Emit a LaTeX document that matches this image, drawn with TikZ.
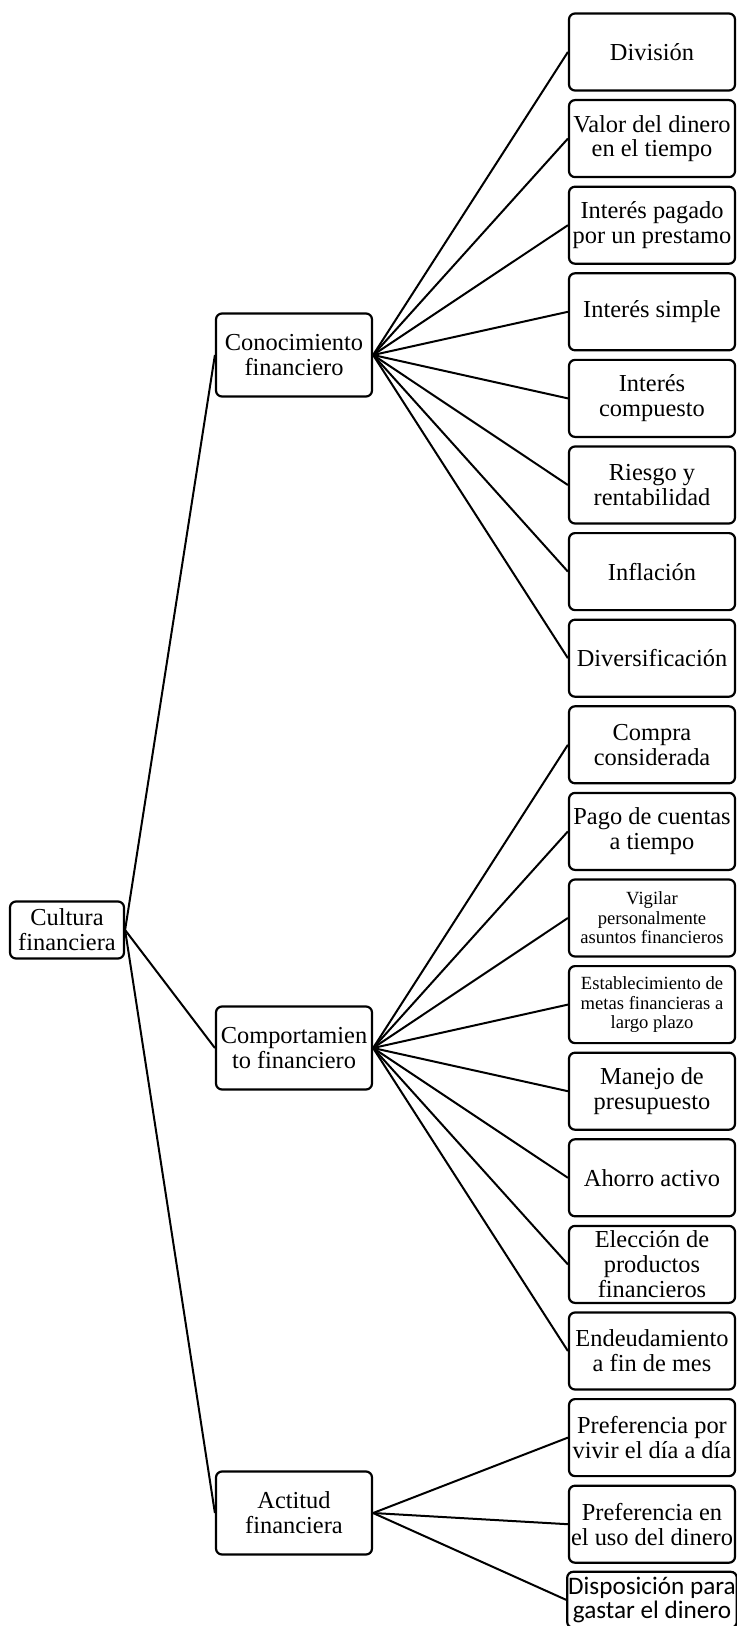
\documentclass[tikz,border=0pt]{standalone}
\usepackage{fontspec}
\setmainfont{Liberation Serif}
\newfontfamily\leafsansfont{Carlito}
\usepackage{tikz}
\usetikzlibrary{positioning}
\tikzset{
    box/.style={draw=black, fill=white, rounded corners=3pt, line width=1.1pt, align=center, inner sep=0.5pt, font=\fontsize{12.2}{12.4}\selectfont},
    rootbox/.style={box, minimum width=57pt, minimum height=28.5pt},
    midbox/.style={box, minimum width=78pt, minimum height=41.5pt},
    leaf/.style={box, minimum width=83pt, minimum height=38.5pt},
    leafsmall/.style={leaf, font=\fontsize{9.3}{9.7}\selectfont},
    % last box runs off the page, its text sits higher
    leafsans/.style={leaf, minimum height=28pt, yshift=5.5pt, font=\leafsansfont\fontsize{12.6}{11.8}\selectfont},
    link/.style={line width=1pt, black}
}

\begin{document}
\begin{tikzpicture}[x=0.5pt, y=-0.5pt]
        \clip (0,0) rectangle (737,1626);
        \useasboundingbox (0,0) rectangle (737,1626);

        % Cultura financiera
        \node[rootbox] at (67,930) (root) {Cultura\\financiera};

        % Second level
        \node[midbox] at (294,355) (con) {Conocimiento\\financiero};
        \node[midbox] at (294,1048) (com) {Comportamien\\to financiero};
        \node[midbox] at (294,1513) (act) {Actitud\\financiera};

        \foreach \m in {con,com,act} {
            \draw[link] (root.east) -- (\m.west);
        }

        % Conocimiento financiero
        \foreach \i/\st/\label in {0/leaf/División, 1/leaf/{Valor del dinero\\en el tiempo}, 2/leaf/{Interés pagado\\por un prestamo}, 3/leaf/Interés simple, 4/leaf/{Interés\\compuesto}, 5/leaf/{Riesgo y\\rentabilidad}, 6/leaf/Inflación, 7/leaf/Diversificación} {
            \node[\st] at (652,52+\i*86.6) (l\i) {\label};
            \draw[link] (con.east) -- (l\i.west);
        }

        % Comportamiento financiero
        \foreach \i/\st/\label in {8/leaf/{Compra\\considerada}, 9/leaf/{Pago de cuentas\\a tiempo}, 10/leafsmall/{Vigilar\\personalmente\\asuntos financieros}, 11/leafsmall/{Establecimiento de\\metas financieras a\\largo plazo}, 12/leaf/{Manejo de\\presupuesto}, 13/leaf/Ahorro activo, 14/leaf/{Elección de\\productos\\financieros}, 15/leaf/{Endeudamiento\\a fin de mes}} {
            \node[\st] at (652,52+\i*86.6) (l\i) {\label};
            \draw[link] (com.east) -- (l\i.west);
        }

        % Actitud financiera
        \foreach \i/\st/\label in {16/leaf/{Preferencia por\\vivir el día a día}, 17/leaf/{Preferencia en\\el uso del dinero}, 18/leafsans/{Disposición para\\gastar el dinero}} {
            \node[\st] at (652,52+\i*86.6) (l\i) {\label};
            \draw[link] (act.east) -- (l\i.west);
        }

    \end{tikzpicture}
\end{document}
